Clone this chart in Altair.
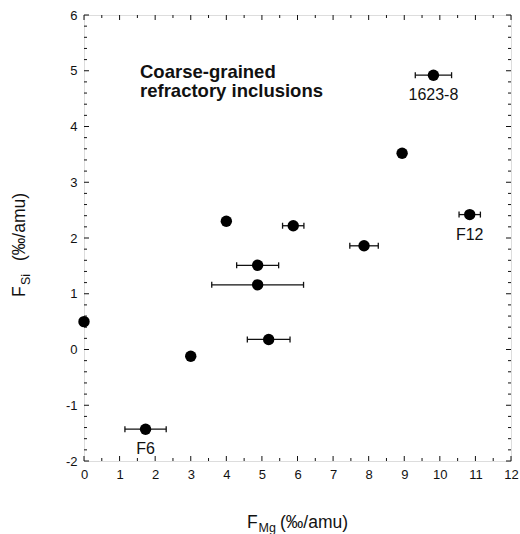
import altair as alt
import pandas as pd

# ---- data ----
fmg = [0.0, 3.0, 1.73, 4.0, 4.88, 4.88, 5.19, 5.88, 7.87, 8.94, 9.82, 10.84]
fsi = [0.50, -0.12, -1.43, 2.30, 1.51, 1.16, 0.18, 2.22, 1.86, 3.52, 4.92, 2.42]
fmg_err = [0, 0, 0.58, 0, 0.59, 1.29, 0.60, 0.30, 0.40, 0, 0.51, 0.30]
names = ["", "", "F6", "", "", "", "", "", "", "", "1623-8", "F12"]

x_ticks = [i * 0.5 for i in range(25)]      # 0 .. 12 step 0.5
y_ticks = [-2 + i * 0.2 for i in range(41)]  # -2 .. 6 step 0.2
x_labels = list(range(0, 13))
y_labels = list(range(-2, 7))

FONT = "Liberation Sans"
INK = "#111111"
W, H = 427, 446

df = pd.DataFrame({"fmg": fmg, "fsi": fsi, "err": fmg_err, "name": names})
df["lo"] = df["fmg"] - df["err"]
df["hi"] = df["fmg"] + df["err"]
eb = df[df["err"] > 0].copy()
lab = df[df["name"] != ""].copy()

xs = alt.Scale(domain=[0, 12], nice=False, zero=False)
ys = alt.Scale(domain=[-2, 6], nice=False, zero=False)

x_axis = alt.Axis(values=x_labels, labelExpr="'' + datum.value", ticks=False, domain=False,
                  grid=False, title=None, labelFont=FONT, labelFontSize=13, labelPadding=7,
                  labelColor=INK, labelFlush=False, labelOverlap=False)
y_axis = alt.Axis(values=y_labels, labelExpr="'' + datum.value", ticks=False, domain=False,
                  grid=False, title=None, labelFont=FONT, labelFontSize=13, labelPadding=7,
                  labelColor=INK, labelFlush=False, labelOverlap=False)


def X(field):
    return alt.X(field, scale=xs, axis=x_axis)


def Y(field):
    return alt.Y(field, scale=ys, axis=y_axis)


# error bars
bars = alt.Chart(eb).mark_rule(color=INK, strokeWidth=1.3).encode(
    x=X("lo:Q"), x2="hi:Q", y=Y("fsi:Q"),
)
caps = alt.Chart(eb).transform_fold(["lo", "hi"], as_=["k", "xv"]).mark_tick(
    orient="vertical", size=6, thickness=1.3, color=INK, opacity=1
).encode(x=X("xv:Q"), y=Y("fsi:Q"))
points = alt.Chart(df).mark_circle(size=130, color="black", opacity=1).encode(
    x=X("fmg:Q"), y=Y("fsi:Q"),
)
names_txt = alt.Chart(lab).mark_text(dy=20, font=FONT, fontSize=16, color=INK).encode(
    x=X("fmg:Q"), y=Y("fsi:Q"), text="name:N",
)

# frame ticks (inward)
xt = pd.DataFrame({"v": x_ticks})
xt["major"] = (xt["v"] % 1 == 0)
yt = pd.DataFrame({"v": y_ticks})
yt["major"] = (yt["v"].round(3) % 1 == 0)

tick_layers = []
for major, ln in [(True, 5), (False, 3)]:
    sx = xt[xt["major"] == major]
    sy = yt[yt["major"] == major]
    for yy, yy2 in [(H, H - ln), (0, ln)]:
        tick_layers.append(
            alt.Chart(sx).mark_rule(color=INK, strokeWidth=1).encode(
                x=X("v:Q"), y=alt.value(yy), y2=alt.value(yy2)))
    for xx, xx2 in [(0, ln), (W, W - ln)]:
        tick_layers.append(
            alt.Chart(sy).mark_rule(color=INK, strokeWidth=1).encode(
                y=Y("v:Q"), x=alt.value(xx), x2=alt.value(xx2)))


def label(text, x, y, size, angle=0, bold=False):
    return alt.Chart(pd.DataFrame({"t": [text]})).mark_text(
        font=FONT, fontSize=size, fontWeight="bold" if bold else "normal",
        align="left", baseline="alphabetic", angle=angle, color=INK
    ).encode(x=alt.value(x), y=alt.value(y), text="t:N")


texts = [
    label("Coarse-grained", 56, 63, 18.5, bold=True),
    label("refractory  inclusions", 56, 82, 18.5, bold=True),
    # x title
    label("F", 163, 513, 17.5),
    label("Mg", 174.5, 517, 12.5),
    label("(‰/amu)", 196, 513, 17.5),
    # y title
    label("F", -59, 282, 17.5, angle=270),
    label("Si", -54, 270, 12.5, angle=270),
    label("(‰/amu)", -59, 246, 17.5, angle=270),
]

chart = alt.layer(*tick_layers, bars, caps, points, names_txt, *texts).properties(
    width=W, height=H,
    autosize=alt.AutoSizeParams(type="none"),
    padding={"left": 84, "top": 15, "right": 9, "bottom": 73},
).configure_view(stroke="#222222", strokeWidth=1.5).configure_axis(
    labelOverlap=False, labelFlush=False
).configure(background="white")

chart.save("out.html", embed_options={"renderer": "svg", "actions": False})
